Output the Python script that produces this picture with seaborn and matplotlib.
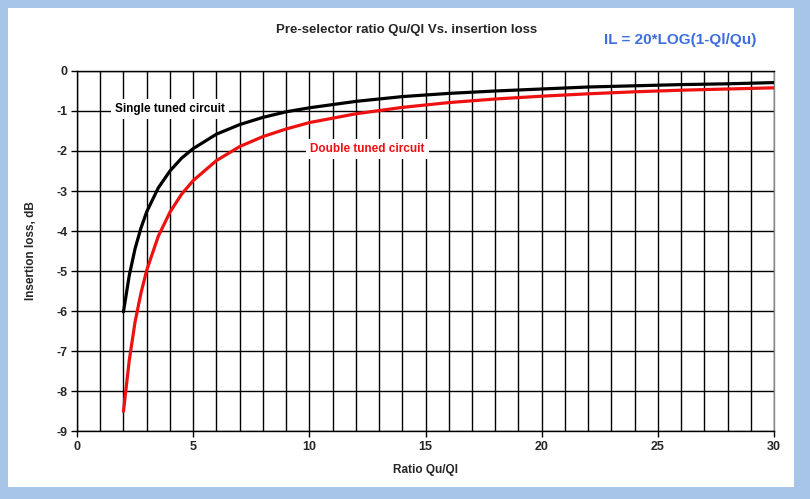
import matplotlib
matplotlib.use("Agg")
import matplotlib.pyplot as plt
import seaborn as sns
import pandas as pd
from matplotlib.ticker import MultipleLocator

ratio = [2, 2.25, 2.5, 2.75, 3, 3.5, 4, 4.5, 5, 6, 7, 8, 9, 10, 12, 14, 16, 18, 20, 22, 24, 26, 28, 30]
single_tuned = [-6.02, -5.11, -4.44, -3.93, -3.52, -2.92, -2.50, -2.18, -1.94, -1.58, -1.34, -1.16, -1.02,
                -0.92, -0.76, -0.64, -0.56, -0.50, -0.45, -0.40, -0.37, -0.34, -0.32, -0.29]
double_tuned = [-8.51, -7.23, -6.27, -5.56, -4.98, -4.13, -3.53, -3.08, -2.74, -2.24, -1.89, -1.64, -1.45,
                -1.29, -1.07, -0.91, -0.79, -0.70, -0.63, -0.57, -0.52, -0.48, -0.45, -0.42]
series_names = ["Single tuned circuit", "Double tuned circuit"]
series_colors = ["#000000", "#EE1111"]

df = pd.concat([
    pd.DataFrame({"ratio": ratio, "loss": single_tuned, "series": series_names[0]}),
    pd.DataFrame({"ratio": ratio, "loss": double_tuned, "series": series_names[1]}),
])

sns.set_theme(style="white")
plt.rcParams['font.family'] = ['Liberation Sans', 'DejaVu Sans']
plt.rcParams['axes.unicode_minus'] = False

fig = plt.figure(figsize=(8.10, 4.99), dpi=100, facecolor="#A7C5E9")
# white inner panel
bg = fig.add_axes([8/810, 1-487/499, (794-8)/810, (487-8)/499])
bg.set_facecolor("white")
bg.set_xticks([]); bg.set_yticks([])
for s in bg.spines.values():
    s.set_visible(False)

ax = fig.add_axes([77/810, 1-431/499, (774-77)/810, (431-71)/499])
ax.set_facecolor("white")
sns.lineplot(data=df, x="ratio", y="loss", hue="series", palette=series_colors,
             linewidth=2.3, ax=ax, legend=False, sort=True, zorder=5)

ax.set_xlim(0, 30)
ax.set_ylim(-9, 0)
ax.xaxis.set_major_locator(MultipleLocator(5))
ax.xaxis.set_minor_locator(MultipleLocator(1))
ax.yaxis.set_major_locator(MultipleLocator(1))
ax.grid(True, which="both", axis="x", color="black", linewidth=1.0)
ax.grid(True, which="major", axis="y", color="black", linewidth=1.0)
ax.tick_params(axis="both", which="major", direction="out", length=4, width=1, color="black",
               labelsize=9, pad=3, bottom=True, left=True)
ax.tick_params(axis="x", which="minor", length=0)
for lab in ax.get_xticklabels() + ax.get_yticklabels():
    lab.set_fontweight("bold")
ax.spines["left"].set_color("black")
ax.spines["bottom"].set_color("black")
ax.spines["right"].set_color("#888888")
ax.spines["top"].set_color("black")
for s in ax.spines.values():
    s.set_linewidth(1.0)

ax.set_xlabel("Ratio Qu/Ql", fontsize=8.5, fontweight="bold", labelpad=8)
ax.set_ylabel("Insertion loss, dB", fontsize=8.5, fontweight="bold", labelpad=14)

ax.text(4.0, -0.95, series_names[0], color="black", fontsize=8.5, fontweight="bold",
        ha="center", va="center", zorder=6,
        bbox=dict(facecolor="white", edgecolor="none", pad=3))
ax.text(12.5, -1.95, series_names[1], color="#EE1111", fontsize=8.5, fontweight="bold",
        ha="center", va="center", zorder=6,
        bbox=dict(facecolor="white", edgecolor="none", pad=3))

fig.text(407/810, 1-30/499, "Pre-selector ratio Qu/Ql Vs. insertion loss", fontsize=9.5,
         fontweight="bold", ha="center", va="center")
fig.text(680/810, 1-40/499, "IL = 20*LOG(1-Ql/Qu)", fontsize=11, fontweight="bold",
         color="#3D6EE0", ha="center", va="center")

fig.savefig("out.png", dpi=100, facecolor=fig.get_facecolor())
